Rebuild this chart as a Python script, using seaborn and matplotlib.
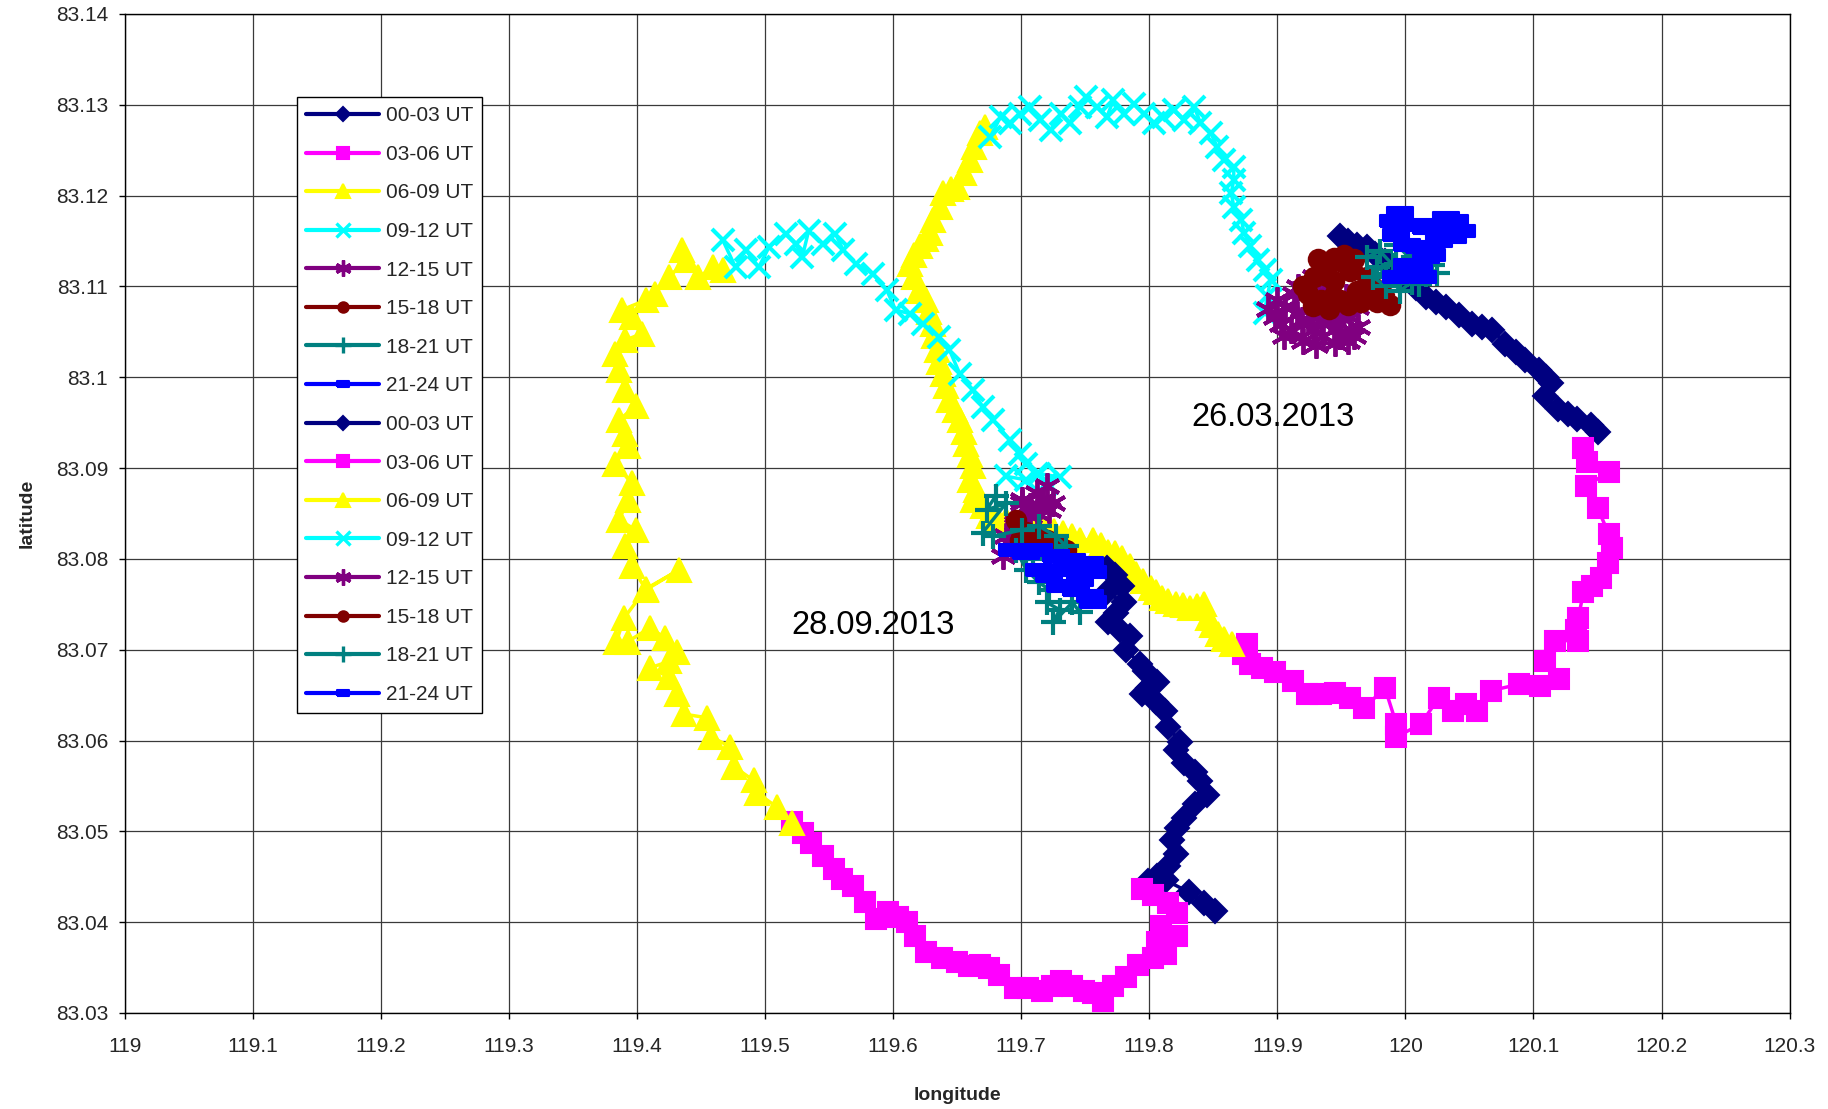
import matplotlib
matplotlib.use("Agg")
import matplotlib.pyplot as plt
from matplotlib.lines import Line2D
import pandas as pd
import seaborn as sns

# ---------------- data: (longitude, latitude) ----------------
series_labels = ["00-03 UT", "03-06 UT", "06-09 UT", "09-12 UT",
                 "12-15 UT", "15-18 UT", "18-21 UT", "21-24 UT"]

# 26.03.2013
mar_00_03 = [(119.949, 83.1155), (119.955, 83.1150), (119.962, 83.1146), (119.970, 83.1143), (119.976, 83.1136),
             (119.984, 83.1128), (119.992, 83.1118), (120.000, 83.1110), (120.008, 83.1098), (120.016, 83.1088),
             (120.024, 83.1083), (120.032, 83.1077), (120.042, 83.1068), (120.052, 83.1059), (120.060, 83.1055),
             (120.068, 83.1052), (120.078, 83.1037), (120.086, 83.1028), (120.093, 83.1019), (120.104, 83.1008),
             (120.110, 83.1000), (120.114, 83.0994), (120.109, 83.0979), (120.119, 83.0965), (120.127, 83.0960),
             (120.134, 83.0954), (120.145, 83.0947), (120.150, 83.0940)]
mar_03_06 = [(120.139, 83.0922), (120.142, 83.0907), (120.159, 83.0896), (120.141, 83.0880), (120.150, 83.0856),
             (120.159, 83.0827), (120.161, 83.0812), (120.158, 83.0795), (120.153, 83.0779), (120.146, 83.0770),
             (120.139, 83.0763), (120.135, 83.0735), (120.133, 83.0722), (120.135, 83.0710), (120.117, 83.0710),
             (120.109, 83.0688), (120.120, 83.0668), (120.105, 83.0660), (120.089, 83.0662), (120.067, 83.0655),
             (120.056, 83.0633), (120.047, 83.0640), (120.037, 83.0633), (120.026, 83.0647), (120.012, 83.0618),
             (119.993, 83.0604), (119.993, 83.0618), (119.984, 83.0658), (119.968, 83.0636), (119.957, 83.0647),
             (119.945, 83.0652), (119.934, 83.0651), (119.923, 83.0651), (119.912, 83.0666), (119.898, 83.0675),
             (119.888, 83.0680), (119.879, 83.0684), (119.873, 83.0695), (119.876, 83.0706)]
mar_06_09 = [(119.865, 83.0706), (119.858, 83.0712), (119.854, 83.0717), (119.849, 83.0727), (119.846, 83.0735),
             (119.843, 83.0750), (119.837, 83.0748), (119.832, 83.0746), (119.826, 83.0749), (119.821, 83.0750),
             (119.815, 83.0754), (119.810, 83.0757), (119.805, 83.0763), (119.801, 83.0768), (119.795, 83.0776),
             (119.790, 83.0783), (119.785, 83.0792), (119.779, 83.0801), (119.773, 83.0806), (119.768, 83.0808),
             (119.762, 83.0815), (119.756, 83.0821), (119.746, 83.0821), (119.740, 83.0825), (119.733, 83.0829),
             (119.726, 83.0831), (119.718, 83.0833), (119.710, 83.0836), (119.702, 83.0838), (119.695, 83.0840),
             (119.688, 83.0843), (119.681, 83.0845), (119.675, 83.0847), (119.670, 83.0858), (119.662, 83.0865),
             (119.665, 83.0876), (119.660, 83.0887), (119.662, 83.0902), (119.660, 83.0914), (119.657, 83.0927),
             (119.655, 83.0940), (119.652, 83.0953), (119.648, 83.0964), (119.644, 83.0975), (119.641, 83.0990),
             (119.639, 83.1004), (119.636, 83.1017), (119.634, 83.1030), (119.632, 83.1045), (119.631, 83.1059),
             (119.628, 83.1072), (119.626, 83.1085), (119.620, 83.1095), (119.616, 83.1110), (119.613, 83.1125),
             (119.616, 83.1135), (119.621, 83.1144), (119.626, 83.1152), (119.629, 83.1159), (119.631, 83.1173),
             (119.637, 83.1188), (119.639, 83.1203), (119.645, 83.1207), (119.650, 83.1210), (119.655, 83.1225),
             (119.660, 83.1239), (119.663, 83.1254), (119.668, 83.1269), (119.672, 83.1276)]
mar_09_12 = [(119.676, 83.1265), (119.684, 83.1287), (119.691, 83.1280), (119.699, 83.1290), (119.707, 83.1298),
             (119.715, 83.1283), (119.723, 83.1272), (119.731, 83.1290), (119.738, 83.1280), (119.746, 83.1298),
             (119.751, 83.1309), (119.759, 83.1298), (119.767, 83.1287), (119.772, 83.1305), (119.780, 83.1290),
             (119.788, 83.1301), (119.796, 83.1290), (119.804, 83.1280), (119.811, 83.1287), (119.819, 83.1294),
             (119.827, 83.1283), (119.835, 83.1298), (119.840, 83.1280), (119.848, 83.1269), (119.853, 83.1254),
             (119.858, 83.1239), (119.866, 83.1232), (119.866, 83.1217), (119.864, 83.1203), (119.866, 83.1188),
             (119.872, 83.1173), (119.874, 83.1159), (119.879, 83.1144), (119.885, 83.1129), (119.890, 83.1118),
             (119.895, 83.1107), (119.892, 83.1089), (119.890, 83.1071)]
mar_12_15 = [(119.893, 83.1075), (119.898, 83.1066), (119.906, 83.1077), (119.903, 83.1059), (119.911, 83.1052),
             (119.919, 83.1063), (119.913, 83.1092), (119.924, 83.1103), (119.929, 83.1081), (119.936, 83.1095),
             (119.924, 83.1063), (119.936, 83.1045), (119.944, 83.1052), (119.934, 83.1063), (119.949, 83.1059),
             (119.944, 83.1070), (119.957, 83.1066), (119.962, 83.1077), (119.954, 83.1088), (119.949, 83.1045),
             (119.939, 83.1081), (119.929, 83.1110), (119.916, 83.1099), (119.965, 83.1090), (119.905, 83.1045),
             (119.920, 83.1040), (119.930, 83.1036), (119.945, 83.1038), (119.955, 83.1040), (119.963, 83.1055),
             (119.960, 83.1045), (119.900, 83.1085), (119.915, 83.1070), (119.928, 83.1052)]
mar_15_18 = [(119.924, 83.1092), (119.929, 83.1110), (119.936, 83.1124), (119.944, 83.1131), (119.949, 83.1128),
             (119.957, 83.1117), (119.944, 83.1106), (119.934, 83.1085), (119.944, 83.1088), (119.949, 83.1085),
             (119.962, 83.1095), (119.970, 83.1092), (119.975, 83.1099), (119.983, 83.1090), (119.970, 83.1110),
             (119.939, 83.1112), (119.920, 83.1100), (119.928, 83.1078), (119.940, 83.1075), (119.955, 83.1080),
             (119.965, 83.1083), (119.978, 83.1083), (119.988, 83.1080), (119.960, 83.1130), (119.952, 83.1135),
             (119.932, 83.1130)]
mar_18_21 = [(119.970, 83.1132), (119.980, 83.1139), (119.990, 83.1124), (120.001, 83.1114), (120.011, 83.1103),
             (120.021, 83.1124), (119.996, 83.1095), (119.985, 83.1114), (119.978, 83.1121), (120.006, 83.1132),
             (119.993, 83.1146), (120.016, 83.1114), (119.998, 83.1121), (119.975, 83.1110), (119.985, 83.1100),
             (120.005, 83.1105), (120.025, 83.1115), (120.012, 83.1125)]
mar_21_24 = [(119.993, 83.1110), (120.001, 83.1124), (120.011, 83.1117), (120.016, 83.1132), (120.011, 83.1143),
             (120.001, 83.1146), (119.993, 83.1157), (119.990, 83.1172), (119.996, 83.1181), (120.006, 83.1168),
             (120.016, 83.1164), (120.026, 83.1168), (120.032, 83.1175), (120.039, 83.1172), (120.044, 83.1161),
             (120.037, 83.1154), (120.026, 83.1150), (120.021, 83.1135), (120.014, 83.1110)]

# 28.09.2013
sep_00_03 = [(119.767, 83.0790), (119.773, 83.0782), (119.779, 83.0770), (119.767, 83.0763), (119.780, 83.0752),
             (119.774, 83.0740), (119.768, 83.0730), (119.777, 83.0722), (119.785, 83.0715), (119.782, 83.0700),
             (119.793, 83.0684), (119.797, 83.0676), (119.806, 83.0664), (119.799, 83.0658), (119.794, 83.0651),
             (119.805, 83.0642), (119.812, 83.0633), (119.815, 83.0615), (119.824, 83.0598), (119.821, 83.0589),
             (119.827, 83.0575), (119.836, 83.0565), (119.840, 83.0555), (119.845, 83.0540), (119.836, 83.0530),
             (119.827, 83.0515), (119.822, 83.0504), (119.818, 83.0490), (119.821, 83.0475), (119.815, 83.0462),
             (119.806, 83.0451), (119.799, 83.0445), (119.813, 83.0446), (119.831, 83.0433), (119.843, 83.0421),
             (119.851, 83.0412)]
sep_03_06 = [(119.794, 83.0436), (119.803, 83.0430), (119.815, 83.0421), (119.822, 83.0410), (119.809, 83.0396),
             (119.822, 83.0385), (119.806, 83.0378), (119.813, 83.0365), (119.803, 83.0360), (119.791, 83.0353),
             (119.782, 83.0340), (119.772, 83.0330), (119.764, 83.0313), (119.756, 83.0322), (119.749, 83.0324),
             (119.740, 83.0330), (119.731, 83.0335), (119.724, 83.0330), (119.716, 83.0324), (119.705, 83.0327),
             (119.695, 83.0327), (119.683, 83.0342), (119.675, 83.0350), (119.668, 83.0353), (119.659, 83.0352),
             (119.650, 83.0356), (119.638, 83.0360), (119.626, 83.0367), (119.617, 83.0385), (119.611, 83.0400),
             (119.604, 83.0406), (119.596, 83.0411), (119.587, 83.0404), (119.578, 83.0422), (119.569, 83.0440),
             (119.560, 83.0447), (119.554, 83.0458), (119.545, 83.0473), (119.536, 83.0487), (119.530, 83.0498),
             (119.521, 83.0510)]
sep_06_09 = [(119.521, 83.0509), (119.509, 83.0527), (119.494, 83.0542), (119.491, 83.0556), (119.476, 83.0571),
             (119.473, 83.0593), (119.458, 83.0604), (119.455, 83.0625), (119.437, 83.0629), (119.431, 83.0651),
             (119.425, 83.0670), (119.410, 83.0680), (119.425, 83.0687), (119.431, 83.0698), (119.422, 83.0713),
             (119.410, 83.0724), (119.393, 83.0709), (119.384, 83.0709), (119.390, 83.0735), (119.407, 83.0767),
             (119.433, 83.0788), (119.407, 83.0766), (119.396, 83.0792), (119.391, 83.0814), (119.399, 83.0832),
             (119.386, 83.0843), (119.393, 83.0865), (119.396, 83.0883), (119.383, 83.0905), (119.393, 83.0924),
             (119.391, 83.0938), (119.386, 83.0953), (119.399, 83.0968), (119.391, 83.0986), (119.386, 83.1008),
             (119.383, 83.1026), (119.391, 83.1041), (119.404, 83.1048), (119.396, 83.1066), (119.388, 83.1074),
             (119.407, 83.1085), (119.414, 83.1092), (119.425, 83.1110), (119.438, 83.1129), (119.435, 83.1140),
             (119.448, 83.1110), (119.459, 83.1121), (119.467, 83.1118)]
sep_09_12 = [(119.467, 83.1151), (119.477, 83.1121), (119.485, 83.1140), (119.495, 83.1121), (119.503, 83.1143),
             (119.516, 83.1158), (119.524, 83.1147), (119.529, 83.1132), (119.534, 83.1161), (119.545, 83.1147),
             (119.555, 83.1158), (119.561, 83.1140), (119.571, 83.1125), (119.584, 83.1114), (119.595, 83.1096),
             (119.602, 83.1074), (119.613, 83.1070), (119.623, 83.1059), (119.636, 83.1044), (119.644, 83.1030),
             (119.652, 83.1004), (119.662, 83.0986), (119.670, 83.0967), (119.678, 83.0953), (119.691, 83.0931),
             (119.699, 83.0916), (119.704, 83.0905), (119.712, 83.0894), (119.720, 83.0883), (119.730, 83.0890),
             (119.714, 83.0894), (119.704, 83.0887), (119.688, 83.0891)]
sep_12_15 = [(119.720, 83.0880), (119.712, 83.0872), (119.701, 83.0865), (119.707, 83.0858), (119.717, 83.0865),
             (119.722, 83.0854), (119.712, 83.0850), (119.701, 83.0861), (119.707, 83.0847), (119.696, 83.0840),
             (119.688, 83.0825), (119.693, 83.0815), (119.686, 83.0803), (119.696, 83.0836), (119.715, 83.0858),
             (119.725, 83.0862)]
sep_15_18 = [(119.696, 83.0843), (119.699, 83.0821), (119.720, 83.0821), (119.735, 83.0810), (119.709, 83.0814),
             (119.704, 83.0830), (119.714, 83.0825), (119.728, 83.0815)]
sep_18_21 = [(119.680, 83.0869), (119.673, 83.0854), (119.688, 83.0861), (119.670, 83.0829), (119.678, 83.0825),
             (119.701, 83.0832), (119.714, 83.0836), (119.727, 83.0825), (119.735, 83.0814), (119.709, 83.0800),
             (119.696, 83.0810), (119.704, 83.0788), (119.714, 83.0774), (119.722, 83.0766), (119.720, 83.0752),
             (119.730, 83.0744), (119.725, 83.0730), (119.740, 83.0752), (119.746, 83.0741)]
sep_21_24 = [(119.693, 83.0810), (119.704, 83.0807), (119.714, 83.0810), (119.727, 83.0803), (119.740, 83.0799),
             (119.754, 83.0796), (119.756, 83.0785), (119.746, 83.0777), (119.735, 83.0788), (119.722, 83.0781),
             (119.714, 83.0788), (119.730, 83.0770), (119.743, 83.0766), (119.754, 83.0759), (119.756, 83.0752)]

march_series = [mar_00_03, mar_03_06, mar_06_09, mar_09_12, mar_12_15, mar_15_18, mar_18_21, mar_21_24]
sept_series = [sep_00_03, sep_03_06, sep_06_09, sep_09_12, sep_12_15, sep_15_18, sep_18_21, sep_21_24]

date_labels = ["26.03.2013", "28.09.2013"]
date_label_pos = [(119.897, 83.0956), (119.584, 83.0727)]

x_ticks = [119.0, 119.1, 119.2, 119.3, 119.4, 119.5, 119.6, 119.7, 119.8, 119.9, 120.0, 120.1, 120.2, 120.3]
x_tick_labels = ["119", "119.1", "119.2", "119.3", "119.4", "119.5", "119.6", "119.7",
                 "119.8", "119.9", "120", "120.1", "120.2", "120.3"]
y_ticks = [83.03, 83.04, 83.05, 83.06, 83.07, 83.08, 83.09, 83.10, 83.11, 83.12, 83.13, 83.14]
y_tick_labels = ["83.03", "83.04", "83.05", "83.06", "83.07", "83.08", "83.09", "83.1",
                 "83.11", "83.12", "83.13", "83.14"]

# ---------------- styles ----------------
colors = ["#000080", "#FF00FF", "#FFFF00", "#00FFFF", "#800080", "#800000", "#008080", "#0000FF"]
rect_marker = [(-1, -0.45), (1, -0.45), (1, 0.45), (-1, 0.45), (-1, -0.45)]
markers = ["D", "s", "^", "x", (6, 2, 0), "o", "+", rect_marker]
marker_sizes = [12.5, 14, 17.5, 15.5, 19, 14, 18, 19]
marker_edge_w = [1.5, 1.5, 1.5, 3.0, 2.8, 1.5, 3.0, 1.5]
legend_ms = [7.5, 8, 10.5, 10, 11.5, 7.5, 11.5, 9]

sns.set_style("white")
plt.rcParams["font.family"] = ["Liberation Sans", "DejaVu Sans"]

fig = plt.figure(figsize=(18.28, 11.09), dpi=100)
ax = fig.add_axes([0.0682, 0.0866, 0.9108, 0.9008])

for group in (march_series, sept_series):
    for i, pts in enumerate(group):
        df = pd.DataFrame(pts, columns=["lon", "lat"])
        sns.lineplot(data=df, x="lon", y="lat", sort=False, estimator=None, ax=ax,
                     color=colors[i], linewidth=2.5, marker=markers[i], markersize=marker_sizes[i],
                     markerfacecolor=colors[i], markeredgecolor=colors[i],
                     markeredgewidth=marker_edge_w[i], legend=False)

for txt, (x, y) in zip(date_labels, date_label_pos):
    ax.text(x, y, txt, fontsize=23.5, ha="center", va="center", color="black")

ax.set_xlim(119.0, 120.3)
ax.set_ylim(83.03, 83.14)
ax.set_xticks(x_ticks)
ax.set_xticklabels(x_tick_labels)
ax.set_yticks(y_ticks)
ax.set_yticklabels(y_tick_labels)
ax.tick_params(axis="both", direction="out", length=4.5, width=1, color="black",
               labelsize=15, bottom=True, left=True)
ax.tick_params(axis="x", pad=13)
ax.tick_params(axis="y", pad=7.5)
ax.grid(True, color="#3a3a3a", linewidth=0.9)
ax.set_axisbelow(True)
for sp in ax.spines.values():
    sp.set_color("black")
    sp.set_linewidth(1.0)

ax.set_xlabel("longitude", fontsize=14, fontweight="bold")
ax.set_ylabel("latitude", fontsize=14, fontweight="bold")
ax.xaxis.set_label_coords(0.5, -0.074)
ax.yaxis.set_label_coords(-0.0535, 0.5)

handles = []
for _ in range(2):
    for i in range(8):
        handles.append(Line2D([0], [0], color=colors[i], lw=3, marker=markers[i], markersize=legend_ms[i],
                              markerfacecolor=colors[i], markeredgecolor=colors[i],
                              markeredgewidth=min(marker_edge_w[i], 2.4)))
leg = ax.legend(handles, series_labels * 2, loc="upper left", bbox_to_anchor=(0.1035, 0.917),
                borderaxespad=0, frameon=True, fancybox=False, edgecolor="black", framealpha=1,
                fontsize=15, handlelength=3.5, handletextpad=0.3, labelspacing=0.94, borderpad=0.45)
leg.get_frame().set_linewidth(1.0)

fig.savefig("out.png", dpi=100)
